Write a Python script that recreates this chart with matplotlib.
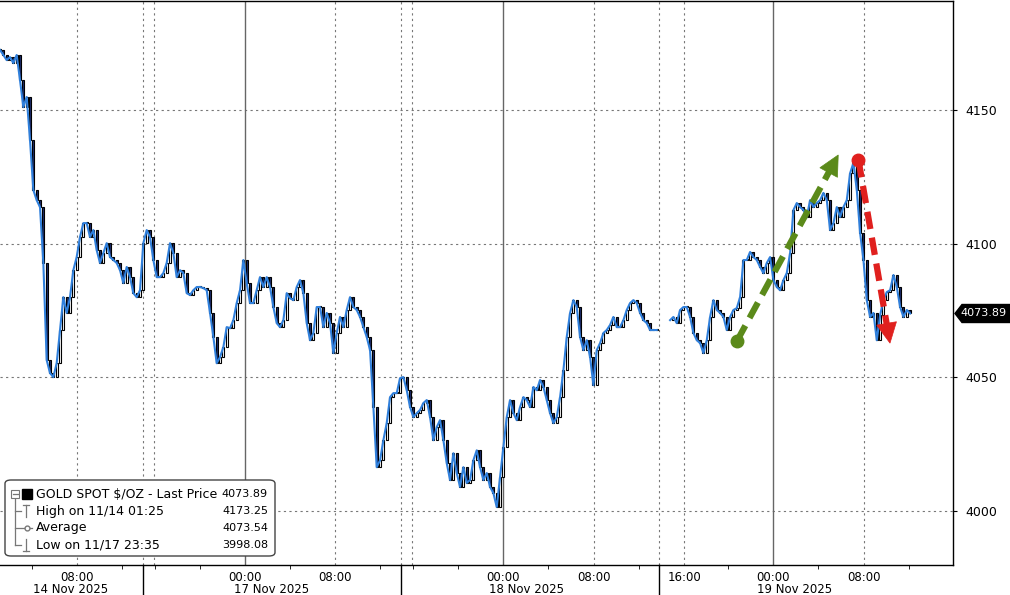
import numpy as np
import matplotlib
matplotlib.use("Agg")
import matplotlib.pyplot as plt
from matplotlib.patches import FancyBboxPatch, Polygon, Rectangle
from matplotlib.lines import Line2D

plt.rcParams['font.family'] = ['DejaVu Sans']

# gold spot close, sampled every 8/27 h of trading time (27 samples per 8 hours)
close = [
    4172.5, 4170.6, 4168.7, 4169.8, 4167.6, 4170.6, 4161.2, 4151.1, 4154.9, 4138.8,
    4120.1, 4116.3, 4113.7, 4092.8, 4056.5, 4051.6, 4050.1, 4055.3, 4067.7, 4080.0,
    4074.1, 4080.0, 4090.1, 4095.0, 4102.5, 4107.7, 4107.7, 4102.5, 4105.1, 4097.6,
    4092.8, 4096.5, 4100.2, 4095.0, 4093.9, 4092.8, 4090.1, 4085.3, 4091.3, 4087.5,
    4081.5, 4080.0, 4082.6, 4100.2, 4105.1, 4102.5, 4093.9, 4087.5, 4087.5, 4089.0,
    4092.8, 4100.2, 4096.5, 4087.5, 4090.1, 4089.0, 4081.5, 4080.8, 4082.6, 4083.8,
    4083.8, 4083.4, 4082.6, 4074.1, 4065.1, 4055.3, 4057.6, 4061.3, 4068.8, 4068.4,
    4071.4, 4077.8, 4082.6, 4093.9, 4085.3, 4077.8, 4077.8, 4082.6, 4087.5, 4083.8,
    4087.5, 4083.8, 4076.3, 4070.3, 4068.8, 4071.4, 4081.5, 4079.6, 4078.9, 4083.8,
    4086.4, 4081.5, 4070.3, 4063.9, 4066.6, 4076.3, 4076.3, 4068.8, 4074.1, 4070.3,
    4059.1, 4066.6, 4072.6, 4068.8, 4075.2, 4080.0, 4076.3, 4075.2, 4072.6, 4068.8,
    4065.1, 4060.2, 4038.9, 4016.4, 4019.0, 4026.5, 4032.9, 4042.6, 4044.1, 4044.1,
    4049.7, 4050.1, 4045.2, 4038.9, 4035.1, 4036.6, 4037.8, 4040.4, 4041.5, 4035.1,
    4026.5, 4031.4, 4034.0, 4026.5, 4017.9, 4011.6, 4021.6, 4014.2, 4009.0, 4016.4,
    4010.5, 4011.6, 4019.0, 4022.7, 4016.4, 4011.6, 4014.2, 4009.0, 4006.7, 4001.5,
    4012.7, 4023.9, 4035.1, 4041.5, 4036.6, 4034.0, 4038.9, 4042.6, 4041.5, 4038.9,
    4046.4, 4045.2, 4049.0, 4046.4, 4041.5, 4036.6, 4032.9, 4035.1, 4042.6, 4052.7,
    4065.1, 4074.1, 4078.9, 4076.3, 4065.1, 4060.2, 4063.9, 4057.6, 4047.1, 4060.2,
    4062.8, 4066.6, 4067.7, 4069.6, 4072.6, 4068.8, 4068.8, 4071.4, 4075.2, 4077.8,
    4078.9, 4077.8, 4074.1, 4071.4, 4070.3, 4067.7, 4067.7, 4067.7, np.nan, np.nan,
    np.nan, 4071.4, 4072.6, 4070.3, 4075.2, 4076.3, 4076.3, 4072.6, 4066.6, 4063.9,
    4062.8, 4059.1, 4063.9, 4072.6, 4078.9, 4075.2, 4074.1, 4072.6, 4067.7, 4072.6,
    4075.2, 4075.9, 4080.0, 4093.9, 4093.9, 4096.9, 4095.0, 4093.9, 4091.3, 4089.0,
    4092.8, 4095.0, 4086.4, 4083.8, 4082.6, 4086.4, 4089.0, 4096.5, 4112.6, 4115.2,
    4113.7, 4112.6, 4110.0, 4116.3, 4113.7, 4115.2, 4116.3, 4119.0, 4116.3, 4105.1,
    4107.7, 4113.7, 4110.0, 4113.7, 4116.3, 4126.4, 4130.2, 4120.1, 4104.0, 4093.9,
    4078.9, 4072.6, 4074.1, 4063.9, 4073.3, 4078.9, 4081.9, 4082.6, 4088.3, 4083.8,
    4076.3, 4072.6, 4075.2, 4073.89,
]
step_h = 8 / 27

# x axis: hours of trading time from the left edge
tick_hours = [6.84, 21.78, 29.78, 44.71, 52.8, 60.8, 68.71, 76.8]
tick_labels = ['08:00', '00:00', '08:00', '00:00', '08:00', '16:00', '00:00', '08:00']
minor_hours = [2.84, 10.84, 13.78, 17.78, 25.78, 33.78, 36.7, 40.7, 48.7, 56.8, 64.7, 72.7, 80.8]
session_hours = [12.71, 13.69, 35.64, 36.62, 58.58]
day_breaks = [12.71, 35.64, 58.58]
date_labels = ['14 Nov 2025', '17 Nov 2025', '18 Nov 2025', '19 Nov 2025']
date_hours = [6.3, 24.1, 46.8, 70.6]

price_ticks = [4000, 4050, 4100, 4150]

legend_rows = [
    ('GOLD SPOT $/OZ - Last Price', '4073.89'),
    ('High on 11/14 01:25', '4173.25'),
    ('Average', '4073.54'),
    ('Low on 11/17 23:35', '3998.08'),
]

# hand-drawn arrows (hours, price)
green_arrow = [(65.5, 4063.6), (74.5, 4133.2)]
red_arrow = [(76.3, 4131.3), (79.1, 4062.8)]

c = np.array(close, dtype=float)
t = np.arange(len(c)) * step_h

W, H = 1010, 595
fig = plt.figure(figsize=(W / 100, H / 100), dpi=100)
ax = fig.add_axes([0, 1 - 565 / H, 953 / W, 564 / H])
ax.set_xlim(0, 84.7)
ax.set_ylim(3979.8, 4190.8)

# grid
for p in price_ticks:
    ax.axhline(p, color='#777777', lw=0.8, ls=(0, (2, 3)), zorder=0)
for h, lab in zip(tick_hours, tick_labels):
    if lab == '00:00':
        ax.axvline(h, color='#666666', lw=1.0, zorder=0)
    else:
        ax.axvline(h, color='#777777', lw=0.8, ls=(0, (2, 3)), zorder=0)
for h in session_hours:
    ax.axvline(h, color='#777777', lw=0.8, ls=(0, (2, 3)), zorder=0)

# candles built from consecutive closes
prev = np.r_[c[0], c[:-1]]
ok = ~np.isnan(c) & ~np.isnan(prev)
lo = np.minimum(prev, c)[ok]
hi = np.maximum(prev, c)[ok]
up = (c >= prev)[ok]
ht = np.maximum(hi - lo, 0.4)
ax.bar(t[ok][up], ht[up], bottom=lo[up], width=step_h * 0.6,
       facecolor='white', edgecolor='black', lw=0.8, zorder=2)
ax.bar(t[ok][~up], ht[~up], bottom=lo[~up], width=step_h * 0.6,
       facecolor='#1b2b6b', edgecolor='black', lw=0.8, zorder=2)
ax.plot(t, c, color='#3080dc', lw=1.5, zorder=3)

# spines and ticks
ax.spines['left'].set_visible(False)
for s in ['right', 'top', 'bottom']:
    ax.spines[s].set_color('black')
    ax.spines[s].set_linewidth(1.0)
ax.yaxis.tick_right()
ax.set_yticks(price_ticks)
ax.set_yticklabels([str(p) for p in price_ticks], fontsize=9)
ax.tick_params(axis='y', length=3, pad=6, colors='black')
ax.set_xticks(tick_hours)
ax.set_xticklabels(tick_labels, fontsize=8.5)
ax.set_xticks(minor_hours, minor=True)
ax.tick_params(axis='x', which='major', length=0, pad=4)
ax.tick_params(axis='x', which='minor', length=3, direction='out')

xtrans = ax.get_xaxis_transform()
for h, lab in zip(date_hours, date_labels):
    ax.text(h, -0.043, lab, transform=xtrans, ha='center', va='center', fontsize=8.5)
for h in day_breaks:
    ax.add_line(Line2D([h, h], [0, -0.06], transform=xtrans, color='black',
                       lw=1.0, clip_on=False))

fig.canvas.draw()

# dashed arrows with solid heads (head built in display space)
def dashed_arrow(pts, color):
    p0 = ax.transData.transform(pts[0])
    p1 = ax.transData.transform(pts[1])
    u = (p1 - p0) / np.hypot(*(p1 - p0))
    n = np.array([-u[1], u[0]])
    head_len, head_half = 20, 10
    base = p1 - head_len * u
    bx, by = ax.transData.inverted().transform(base + 2 * u)
    ax.plot([pts[0][0], bx], [pts[0][1], by], color=color, lw=4.5, ls=(0, (2.8, 1.4)),
            dash_capstyle='butt', zorder=5)
    ax.plot([pts[0][0]], [pts[0][1]], 'o', color=color, ms=9, zorder=6)
    head = Polygon([p1, base + head_half * n, base - head_half * n], closed=True,
                   transform=None, facecolor=color, edgecolor=color, lw=0.5, zorder=6)
    ax.add_artist(head)

dashed_arrow(green_arrow, '#5b8a1a')
dashed_arrow(red_arrow, '#e0201e')

# last price tag
_, ypix = ax.transData.transform((0, c[-1]))
x0 = ax.transAxes.transform((1, 0))[0] + 2
tag = Polygon([(x0, ypix), (x0 + 7, ypix + 9), (W, ypix + 9), (W, ypix - 9), (x0 + 7, ypix - 9)],
              closed=True, transform=None, facecolor='black', edgecolor='black', zorder=10)
fig.patches.append(tag)
fig.text((W - 3) / W, ypix / H, '%.2f' % c[-1], color='white', fontsize=8,
         ha='right', va='center', zorder=11)

# legend box
lx0, ly0, lx1, ly1 = 5, 480, 275, 556
box = FancyBboxPatch((lx0 / W, 1 - ly1 / H), (lx1 - lx0) / W, (ly1 - ly0) / H,
                     boxstyle='round,pad=0,rounding_size=0.006', transform=fig.transFigure,
                     facecolor='white', edgecolor='#444444', lw=1.0, zorder=20)
fig.patches.append(box)
row_y = [494, 511, 528, 545]
for (lab, val), yy in zip(legend_rows, row_y):
    fig.text(36 / W, 1 - yy / H, lab, fontsize=9, ha='left', va='center', zorder=21)
    fig.text(268 / W, 1 - yy / H, val, fontsize=8, ha='right', va='center', zorder=21)

gray = '#777777'

def fline(xs, ys, z=22, **kw):
    fig.lines.append(Line2D([v / W for v in xs], [1 - v / H for v in ys],
                            transform=fig.transFigure, color=gray, lw=0.9, zorder=z, **kw))

fline([15, 15], [498, 545])
for yy in row_y[1:]:
    fline([15, 21], [yy, yy])
fig.patches.append(Rectangle((11 / W, 1 - 498 / H), 8 / W, 8 / H, transform=fig.transFigure,
                             facecolor='white', edgecolor=gray, lw=0.8, zorder=22))
fline([12.5, 17.5], [494, 494], z=23)
fig.patches.append(Rectangle((22 / W, 1 - 499 / H), 10 / W, 10 / H, transform=fig.transFigure,
                             facecolor='black', edgecolor='black', zorder=22))
# high / average / low symbols
fline([26, 26], [505, 517])
fline([23, 29], [505, 505])
fline([22, 32], [528, 528])
fline([27], [528], z=23, marker='o', ms=3.5, mfc='white')
fline([26, 26], [539, 551])
fline([23, 29], [551, 551])

fig.savefig('out.png', dpi=100)
